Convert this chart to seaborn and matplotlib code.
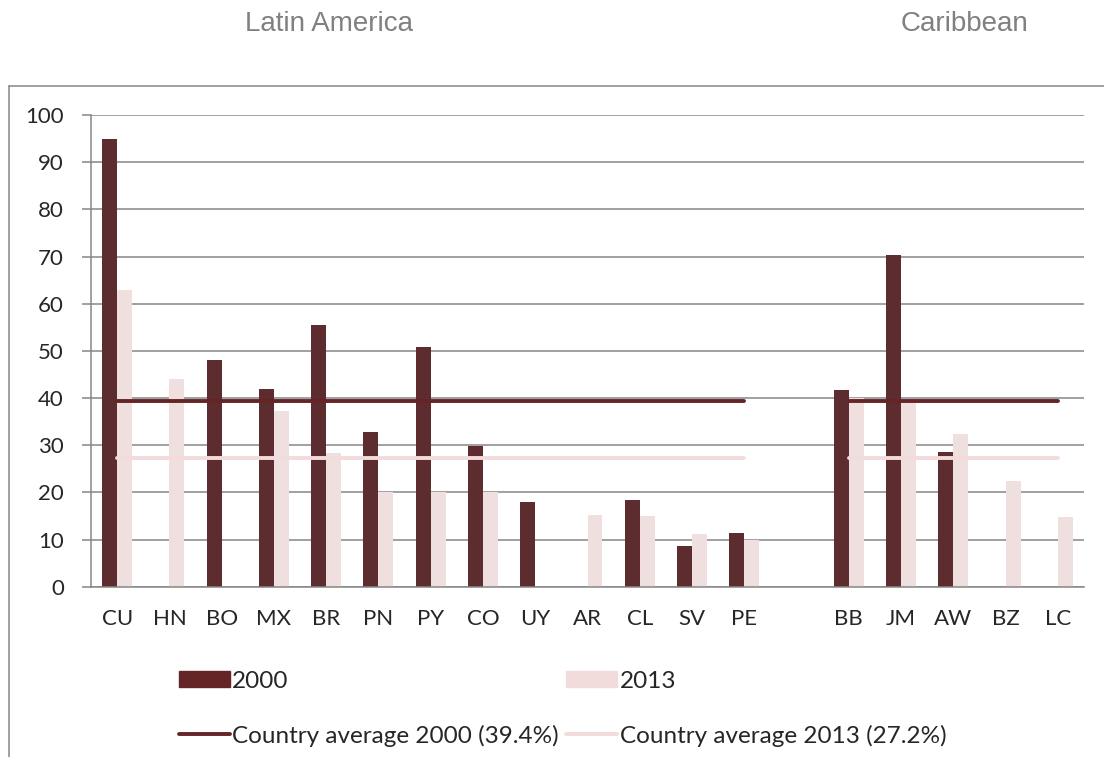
import numpy as np
import pandas as pd
import matplotlib
matplotlib.use('Agg')
import matplotlib.pyplot as plt
import seaborn as sns
from matplotlib.patches import Patch
from matplotlib.lines import Line2D

# --- data ---
countries = ['CU', 'HN', 'BO', 'MX', 'BR', 'PN', 'PY', 'CO', 'UY', 'AR', 'CL', 'SV', 'PE',
             ' ', 'BB', 'JM', 'AW', 'BZ', 'LC']
values_2000 = [95.0, np.nan, 48.0, 42.0, 55.5, 32.8, 50.8, 29.8, 18.0, np.nan, 18.3, 8.7, 11.3,
               np.nan, 41.7, 70.3, 28.6, np.nan, np.nan]
values_2013 = [62.9, 44.0, np.nan, 37.2, 28.4, 20.0, 20.0, 20.0, np.nan, 15.3, 14.9, 11.1, 9.9,
               np.nan, 40.1, 39.8, 32.4, 22.5, 14.8]
avg_2000 = 39.4
avg_2013 = 27.2
latin_group = ['CU', 'PE']      # first / last country of each region
carib_group = ['BB', 'LC']
region_titles = ['Latin America', 'Caribbean']
yticks = [0, 10, 20, 30, 40, 50, 60, 70, 80, 90, 100]

DARK = '#652426'
LIGHT = '#F2DCDB'
GRID = '#868686'

df = pd.DataFrame({'country': countries * 2,
                   'year': ['2000'] * len(countries) + ['2013'] * len(countries),
                   'value': values_2000 + values_2013}).dropna()

sns.set_style('white')
plt.rcParams['font.family'] = ['Lato', 'DejaVu Sans']

fig = plt.figure(figsize=(11.04, 7.57), dpi=100)
ax = fig.add_axes([91 / 1104, 1 - 586.7 / 757, (1084 - 91) / 1104, (586.7 - 115) / 757])

sns.barplot(data=df, x='country', y='value', hue='year', order=countries,
            hue_order=['2000', '2013'], palette={'2000': DARK, '2013': LIGHT},
            width=0.574, linewidth=0, legend=False, ax=ax, zorder=2)

# regional averages
for grp in (latin_group, carib_group):
    x0, x1 = countries.index(grp[0]), countries.index(grp[1])
    ax.plot([x0, x1], [avg_2000, avg_2000], color=DARK, lw=2.8, solid_capstyle='round', zorder=3)
    ax.plot([x0, x1], [avg_2013, avg_2013], color=LIGHT, lw=2.8, solid_capstyle='round', zorder=3)

ax.set_xlim(-0.5, len(countries) - 0.5)
ax.set_ylim(0, 100)
ax.set_yticks(yticks)
ax.set_xlabel('')
ax.set_ylabel('')
ax.set_xticks(range(len(countries)))
ax.set_xticklabels(countries)
ax.set_xticks(np.arange(-0.5, len(countries), 1), minor=True)
ax.yaxis.grid(True, color=GRID, lw=1.1, zorder=0)
ax.set_axisbelow(True)
ax.tick_params(axis='x', which='major', length=0, pad=16, labelsize=16)
ax.tick_params(axis='x', which='minor', length=6, width=1.1, color=GRID, direction='out')
ax.tick_params(axis='y', length=6.5, width=1.1, color=GRID, pad=13, labelsize=16, left=True)
for s in ['top', 'right']:
    ax.spines[s].set_visible(False)
for s in ['left', 'bottom']:
    ax.spines[s].set_color(GRID)
    ax.spines[s].set_linewidth(1.1)

# region titles
fig.text(329 / 1104, 1 - 24 / 757, region_titles[0], ha='center', va='center',
         fontsize=20, color='#808080', family=['Liberation Sans', 'DejaVu Sans'])
fig.text(964 / 1104, 1 - 24 / 757, region_titles[1], ha='center', va='center',
         fontsize=20, color='#808080', family=['Liberation Sans', 'DejaVu Sans'])

# outer chart border (left and top visible)
fig.add_artist(Line2D([9 / 1104, 9 / 1104], [0, 1 - 86 / 757], transform=fig.transFigure,
                      color=GRID, lw=1.1))
fig.add_artist(Line2D([9 / 1104, 1], [1 - 86 / 757, 1 - 86 / 757], transform=fig.transFigure,
                      color=GRID, lw=1.1))

handles = [Patch(color=DARK), Line2D([], [], color=DARK, lw=2.8),
           Patch(color=LIGHT), Line2D([], [], color=LIGHT, lw=2.8)]
labels = ['2000', 'Country average 2000 (39.4%)', '2013', 'Country average 2013 (27.2%)']
fig.legend(handles, labels, ncol=2, loc='upper left', bbox_to_anchor=(169 / 1104, 1 - 661 / 757),
           frameon=False, fontsize=17.5, handlelength=2.1, handleheight=0.6, handletextpad=0.1,
           labelspacing=1.35, columnspacing=0.3, borderaxespad=0)

fig.savefig('out.png', dpi=100)
